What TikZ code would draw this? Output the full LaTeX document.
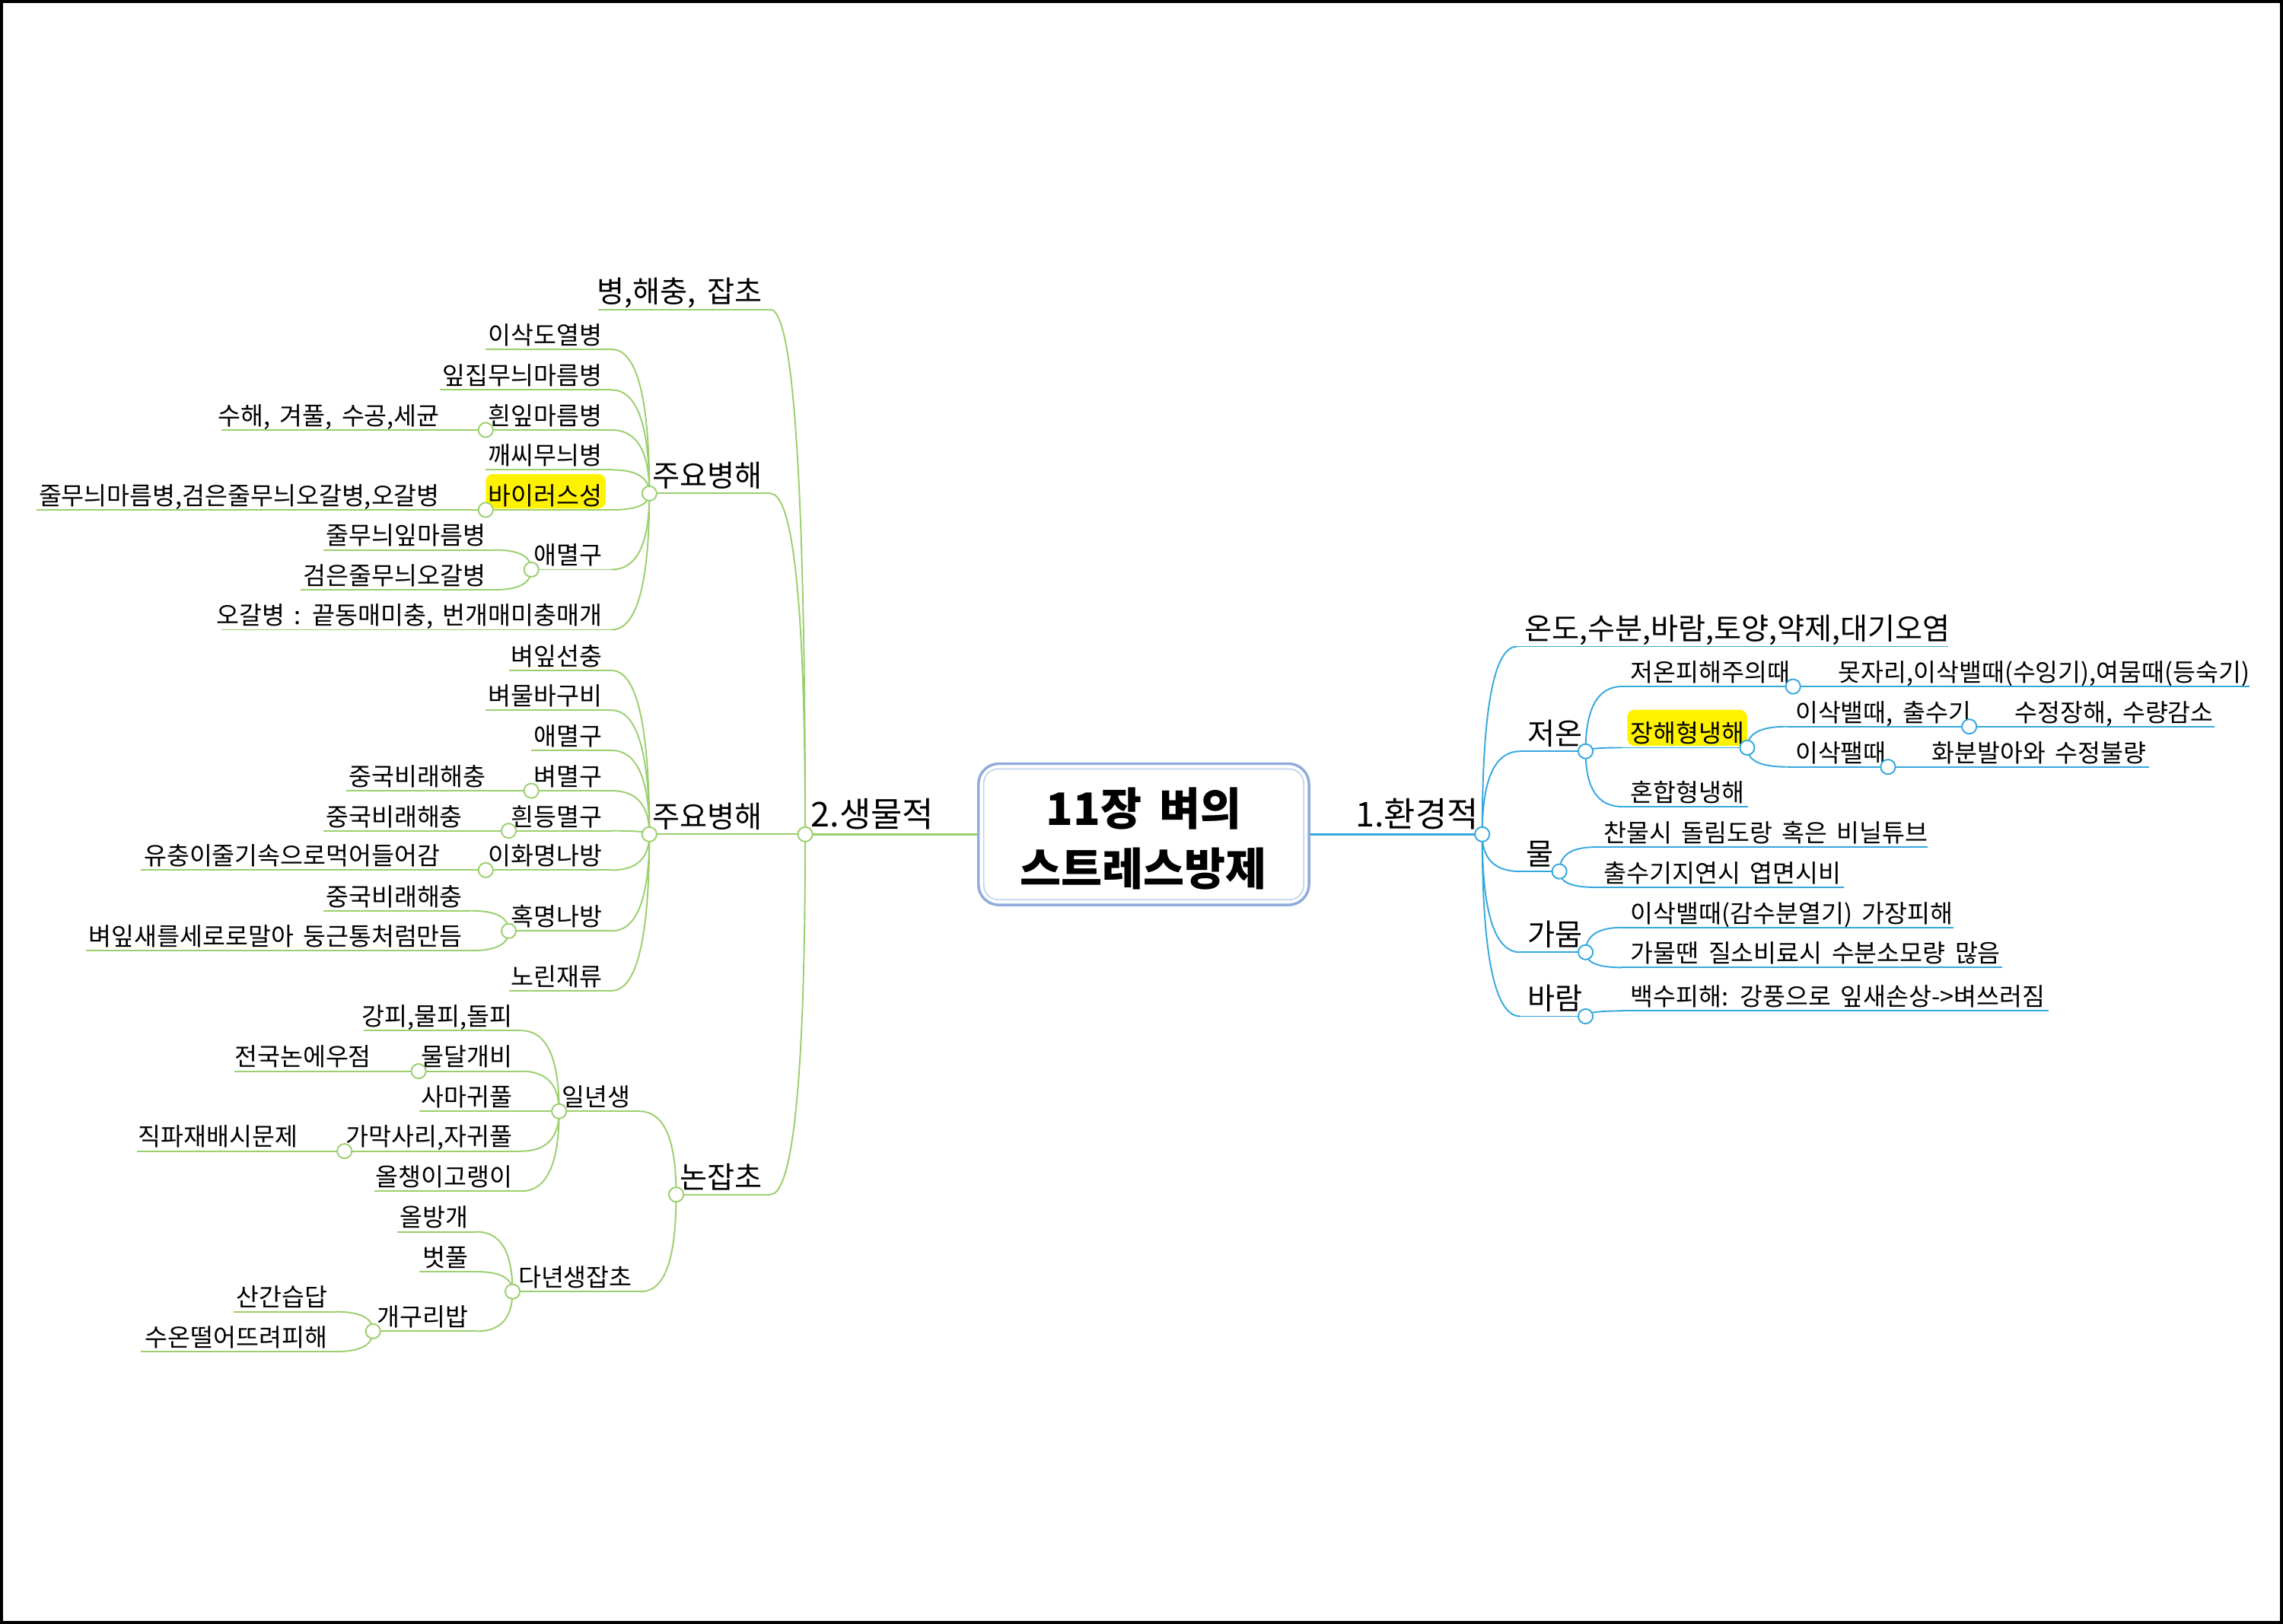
\documentclass[tikz,border=0pt]{standalone}
\usepackage{fontspec}
\setmainfont{Noto Sans CJK KR}[WordSpace=1.7]
\usetikzlibrary{calc}
\definecolor{gr}{RGB}{155,207,110}
\definecolor{bl}{RGB}{52,168,222}
\definecolor{boxo}{RGB}{143,170,220}
\definecolor{boxi}{RGB}{195,212,240}
\newcommand\mmq[3]{\draw[#1] (#2) .. controls ($(#2)!0.6667!(#2|-#3)$) and ($(#3)!0.6667!(#2|-#3)$) .. (#3);}
\tikzset{
  base/.style={inner sep=0pt, outer sep=0pt, text=black},
  fA/.style={font=\fontsize{23.5}{26}\selectfont},
  fB/.style={font=\fontsize{20.5}{24}\selectfont},
  fC/.style={font=\fontsize{17}{20}\selectfont},
  lt/.style={base, anchor=base east},
  rt/.style={base, anchor=base west},
  gl/.style={draw=gr, line width=1pt},
  bll/.style={draw=bl, line width=1pt},
  glm/.style={draw=gr, line width=1.6pt},
  blm/.style={draw=bl, line width=1.6pt},
  ghub/.style={circle, draw=gr, fill=white, line width=1pt, inner sep=0pt, minimum size=10pt},
  bhub/.style={circle, draw=bl, fill=white, line width=1pt, inner sep=0pt, minimum size=10pt},
  hl/.style={fill=yellow, rounded corners=5pt},
  cbox/.style={draw=boxo, line width=1.8pt, fill=white, rounded corners=14pt, minimum width=227pt, minimum height=97pt, inner sep=0pt},
  ctext/.style={base, align=center, font=\bfseries\fontsize{30.7}{41}\selectfont}
}
\begin{document}
\begin{tikzpicture}[x=1pt,y=-1pt]
\useasboundingbox (0,0) rectangle (1568,1115.37);
\fill[white] (0,0) rectangle (1568,1115.37);
\draw[line width=2pt] (1,1) rectangle (1567,1114.37);

% ---------- center ----------
\node[cbox] (C) at (785.5,573) {};
\draw[boxi, line width=0.9pt, rounded corners=10pt] ($(C.north west)+(4.5,4.5)$) rectangle ($(C.south east)+(-4.5,-4.5)$);

% ---------- coordinates: right ----------
\coordinate (H1) at (1018,573);
\coordinate (Ra) at (1042,444);   \coordinate (Rae) at (1338,444);
\coordinate (Rb) at (1044,516);   \coordinate (HJ) at (1089,516);
\coordinate (Rc) at (1044,598.5); \coordinate (HM) at (1071,598.5);
\coordinate (Rd) at (1044,654);   \coordinate (HG) at (1089,654);
\coordinate (Re) at (1044,698);   \coordinate (HB) at (1089,698);
\coordinate (Rb1) at (1114,471.5); \coordinate (HJ1) at (1231.5,471.5); \coordinate (Rb1e) at (1545,471.5);
\coordinate (Rb2) at (1114,513.5); \coordinate (HJ2) at (1200,513.5);
\coordinate (Rb21) at (1227,499); \coordinate (HJ21) at (1352.5,499); \coordinate (Rb21e) at (1521,499);
\coordinate (Rb22) at (1227,526.7); \coordinate (HJ22) at (1296.7,526.7); \coordinate (Rb22e) at (1476,526.7);
\coordinate (Rb3) at (1114,554); \coordinate (Rb3e) at (1200.5,554);
\coordinate (Rc1) at (1095.5,581.8); \coordinate (Rc1e) at (1324,581.8);
\coordinate (Rc2) at (1095.5,609.4); \coordinate (Rc2e) at (1266.6,609.4);
\coordinate (Rd1) at (1114,637); \coordinate (Rd1e) at (1341.5,637);
\coordinate (Rd2) at (1114,664.5); \coordinate (Rd2e) at (1375,664.5);
\coordinate (Re1) at (1114,694.3); \coordinate (Re1e) at (1407,694.3);

% ---------- coordinates: left ----------
\coordinate (H2) at (553,573);
\coordinate (La) at (529,212.5); \coordinate (Lae) at (411,212.5);
\coordinate (Lb) at (529,338.9); \coordinate (HA) at (446,338.9);
\coordinate (Lc) at (529,573);   \coordinate (HBb) at (446,573);
\coordinate (Ld) at (529,820.4); \coordinate (HC) at (464.4,820.4);
% under HA
\coordinate (Lb1) at (420,239.9); \coordinate (Lb1e) at (333.6,239.9);
\coordinate (Lb2) at (420,267.8); \coordinate (Lb2e) at (302,267.8);
\coordinate (Lb3) at (420,295.3); \coordinate (HA3) at (333.6,295.3); \coordinate (Lb3e) at (151.9,295.3);
\coordinate (Lb4) at (420,322.7); \coordinate (Lb4e) at (333.6,322.7);
\coordinate (Lb5) at (420,350.2); \coordinate (HA5) at (333.6,350.2); \coordinate (Lb5e) at (25,350.2);
\coordinate (Lb6) at (420,391.2); \coordinate (HA6) at (364.9,391.2);
\coordinate (Lb61) at (339.6,377.7); \coordinate (Lb61e) at (222.3,377.7);
\coordinate (Lb62) at (339.6,405.1); \coordinate (Lb62e) at (206.4,405.1);
\coordinate (Lb7) at (420,432.5); \coordinate (Lb7e) at (151.9,432.5);
% under HBb
\coordinate (Lc1) at (420,460.5); \coordinate (Lc1e) at (349.4,460.5);
\coordinate (Lc2) at (420,487.8); \coordinate (Lc2e) at (333.6,487.8);
\coordinate (Lc3) at (420,515.4); \coordinate (Lc3e) at (364.9,515.4);
\coordinate (Lc4) at (420,543.1); \coordinate (HB4) at (364.9,543.1); \coordinate (Lc4e) at (237.7,543.1);
\coordinate (Lc5) at (420,570.6); \coordinate (HB5) at (349.4,570.6); \coordinate (Lc5e) at (222.3,570.6);
\coordinate (Lc6) at (420,597.6); \coordinate (HB6) at (333.6,597.6); \coordinate (Lc6e) at (96.6,597.6);
\coordinate (Lc7) at (420,639.4); \coordinate (HB7) at (349.4,639.4);
\coordinate (Lc71) at (323.7,625.5); \coordinate (Lc71e) at (222.3,625.5);
\coordinate (Lc72) at (323.7,652.9); \coordinate (Lc72e) at (59,652.9);
\coordinate (Lc8) at (420,680.4); \coordinate (Lc8e) at (349.4,680.4);
% under HC
\coordinate (Ld1) at (439,763.2); \coordinate (HC1) at (384,763.2);
\coordinate (Ld11) at (358,707.8); \coordinate (Ld11e) at (249.9,707.8);
\coordinate (Ld12) at (358,735.7); \coordinate (HC12) at (287.5,735.7); \coordinate (Ld12e) at (161,735.7);
\coordinate (Ld13) at (358,763.2); \coordinate (Ld13e) at (288,763.2);
\coordinate (Ld14) at (358,790.6); \coordinate (HC14) at (236.6,790.6); \coordinate (Ld14e) at (94,790.6);
\coordinate (Ld15) at (358,818.1); \coordinate (Ld15e) at (257.3,818.1);
\coordinate (Ld2) at (440.5,887); \coordinate (HC2) at (352,887);
\coordinate (Ld21) at (327.4,846); \coordinate (Ld21e) at (272.8,846);
\coordinate (Ld22) at (327.4,873.4); \coordinate (Ld22e) at (288.2,873.4);
\coordinate (Ld23) at (327.4,914.3); \coordinate (HC23) at (256.2,914.3);
\coordinate (Ld231) at (230.8,900.9); \coordinate (Ld231e) at (160.3,900.9);
\coordinate (Ld232) at (230.8,928.3); \coordinate (Ld232e) at (96.6,928.3);

% ---------- connectors: right ----------
\draw[blm] (C.east|-H1) -- (H1);
\mmq{bll}{H1}{Ra} \draw[bll] (Ra) -- (Rae);
\mmq{bll}{H1}{Rb} \draw[bll] (Rb) -- (HJ);
\mmq{bll}{H1}{Rc} \draw[bll] (Rc) -- (HM);
\mmq{bll}{H1}{Rd} \draw[bll] (Rd) -- (HG);
\mmq{bll}{H1}{Re} \draw[bll] (Re) -- (HB);
\mmq{bll}{HJ}{Rb1} \draw[bll] (Rb1) -- (HJ1) -- (Rb1e);
\mmq{bll}{HJ}{Rb2} \draw[bll] (Rb2) -- (HJ2);
\mmq{bll}{HJ2}{Rb21} \draw[bll] (Rb21) -- (HJ21) -- (Rb21e);
\mmq{bll}{HJ2}{Rb22} \draw[bll] (Rb22) -- (HJ22) -- (Rb22e);
\mmq{bll}{HJ}{Rb3} \draw[bll] (Rb3) -- (Rb3e);
\mmq{bll}{HM}{Rc1} \draw[bll] (Rc1) -- (Rc1e);
\mmq{bll}{HM}{Rc2} \draw[bll] (Rc2) -- (Rc2e);
\mmq{bll}{HG}{Rd1} \draw[bll] (Rd1) -- (Rd1e);
\mmq{bll}{HG}{Rd2} \draw[bll] (Rd2) -- (Rd2e);
\mmq{bll}{HB}{Re1} \draw[bll] (Re1) -- (Re1e);

% ---------- connectors: left ----------
\draw[glm] (C.west|-H2) -- (H2);
\mmq{gl}{H2}{La} \draw[gl] (La) -- (Lae);
\mmq{gl}{H2}{Lb} \draw[gl] (Lb) -- (HA);
\draw[gl] (H2) -- (HBb);
\mmq{gl}{H2}{Ld} \draw[gl] (Ld) -- (HC);
\mmq{gl}{HA}{Lb1} \draw[gl] (Lb1) -- (Lb1e);
\mmq{gl}{HA}{Lb2} \draw[gl] (Lb2) -- (Lb2e);
\mmq{gl}{HA}{Lb3} \draw[gl] (Lb3) -- (HA3) -- (Lb3e);
\mmq{gl}{HA}{Lb4} \draw[gl] (Lb4) -- (Lb4e);
\mmq{gl}{HA}{Lb5} \draw[gl] (Lb5) -- (HA5) -- (Lb5e);
\mmq{gl}{HA}{Lb6} \draw[gl] (Lb6) -- (HA6);
\mmq{gl}{HA6}{Lb61} \draw[gl] (Lb61) -- (Lb61e);
\mmq{gl}{HA6}{Lb62} \draw[gl] (Lb62) -- (Lb62e);
\mmq{gl}{HA}{Lb7} \draw[gl] (Lb7) -- (Lb7e);
\mmq{gl}{HBb}{Lc1} \draw[gl] (Lc1) -- (Lc1e);
\mmq{gl}{HBb}{Lc2} \draw[gl] (Lc2) -- (Lc2e);
\mmq{gl}{HBb}{Lc3} \draw[gl] (Lc3) -- (Lc3e);
\mmq{gl}{HBb}{Lc4} \draw[gl] (Lc4) -- (HB4) -- (Lc4e);
\mmq{gl}{HBb}{Lc5} \draw[gl] (Lc5) -- (HB5) -- (Lc5e);
\mmq{gl}{HBb}{Lc6} \draw[gl] (Lc6) -- (HB6) -- (Lc6e);
\mmq{gl}{HBb}{Lc7} \draw[gl] (Lc7) -- (HB7);
\mmq{gl}{HB7}{Lc71} \draw[gl] (Lc71) -- (Lc71e);
\mmq{gl}{HB7}{Lc72} \draw[gl] (Lc72) -- (Lc72e);
\mmq{gl}{HBb}{Lc8} \draw[gl] (Lc8) -- (Lc8e);
\mmq{gl}{HC}{Ld1} \draw[gl] (Ld1) -- (HC1);
\mmq{gl}{HC1}{Ld11} \draw[gl] (Ld11) -- (Ld11e);
\mmq{gl}{HC1}{Ld12} \draw[gl] (Ld12) -- (HC12) -- (Ld12e);
\draw[gl] (HC1) -- (Ld13e);
\mmq{gl}{HC1}{Ld14} \draw[gl] (Ld14) -- (HC14) -- (Ld14e);
\mmq{gl}{HC1}{Ld15} \draw[gl] (Ld15) -- (Ld15e);
\mmq{gl}{HC}{Ld2} \draw[gl] (Ld2) -- (HC2);
\mmq{gl}{HC2}{Ld21} \draw[gl] (Ld21) -- (Ld21e);
\mmq{gl}{HC2}{Ld22} \draw[gl] (Ld22) -- (Ld22e);
\mmq{gl}{HC2}{Ld23} \draw[gl] (Ld23) -- (HC23);
\mmq{gl}{HC23}{Ld231} \draw[gl] (Ld231) -- (Ld231e);
\mmq{gl}{HC23}{Ld232} \draw[gl] (Ld232) -- (Ld232e);

% ---------- highlights ----------
\fill[hl] (333.6,325.5) rectangle (416,349.3);
\fill[hl] (1117.6,487.5) rectangle (1200,512.3);

% ---------- texts ----------
\node[ctext] (Ct) at (785.5,576) {11장 벼의\\스트레스방제};
\node[rt,fA] (t1) at (931,568) {1.환경적};
\node[rt,fA] (t2) at (557,568) {2.생물적};
% right
\node[rt,fB] (ra) at (1047,439.5) {온도,수분,바람,토양,약제,대기오염};
\node[rt,fB] (rb) at (1049,511.5) {저온};
\node[rt,fB] (rc) at (1048,594) {물};
\node[rt,fB] (rd) at (1049,649.5) {가뭄};
\node[rt,fB] (re) at (1049,693.5) {바람};
\node[rt,fC] (rb1) at (1120,468) {저온피해주의때};
\node[rt,fC] (rb1a) at (1262.5,468) {못자리,이삭밸때(수잉기),여뭄때(등숙기)};
\node[rt,fC] (rb2) at (1120,510) {장해형냉해};
\node[rt,fC] (rb21) at (1233,495.5) {이삭밸때, 출수기};
\node[rt,fC] (rb21a) at (1384,495.5) {수정장해, 수량감소};
\node[rt,fC] (rb22) at (1233,523.2) {이삭팰때};
\node[rt,fC] (rb22a) at (1327,523.2) {화분발아와 수정불량};
\node[rt,fC] (rb3) at (1120,550.5) {혼합형냉해};
\node[rt,fC] (rc1) at (1101.5,578.3) {찬물시 돌림도랑 혹은 비닐튜브};
\node[rt,fC] (rc2) at (1101.5,605.9) {출수기지연시 엽면시비};
\node[rt,fC] (rd1) at (1120,633.5) {이삭밸때(감수분열기) 가장피해};
\node[rt,fC] (rd2) at (1120,661) {가물땐 질소비료시 수분소모량 많음};
\node[rt,fC] (re1) at (1120,690.8) {백수피해: 강풍으로 잎새손상->벼쓰러짐};
% left
\node[lt,fB] (la) at (523.4,208) {병,해충, 잡초};
\node[lt,fB] (lb) at (523.4,334.4) {주요병해};
\node[lt,fB] (lc) at (523.4,568.5) {주요병해};
\node[lt,fB] (ld) at (523.4,816) {논잡초};
\node[lt,fC] (lb1) at (413.6,236.4) {이삭도열병};
\node[lt,fC] (lb2) at (413.6,264.3) {잎집무늬마름병};
\node[lt,fC] (lb3) at (413.6,291.8) {흰잎마름병};
\node[lt,fC] (lb3a) at (302,291.8) {수해, 겨풀, 수공,세균};
\node[lt,fC] (lb4) at (413.6,319.2) {깨씨무늬병};
\node[lt,fC] (lb5) at (413.6,346.7) {바이러스성};
\node[lt,fC] (lb5a) at (302,346.7) {줄무늬마름병,검은줄무늬오갈병,오갈병};
\node[lt,fC] (lb6) at (413.6,387.7) {애멸구};
\node[lt,fC] (lb61) at (333.6,374.2) {줄무늬잎마름병};
\node[lt,fC] (lb62) at (333.6,401.6) {검은줄무늬오갈병};
\node[lt,fC] (lb7) at (413.6,429) {오갈병 : 끝동매미충, 번개매미충매개};
\node[lt,fC] (lc1) at (413.6,457) {벼잎선충};
\node[lt,fC] (lc2) at (413.6,484.3) {벼물바구비};
\node[lt,fC] (lc3) at (413.6,511.9) {애멸구};
\node[lt,fC] (lc4) at (413.6,539.6) {벼멸구};
\node[lt,fC] (lc4a) at (333.6,539.6) {중국비래해충};
\node[lt,fC] (lc5) at (413.6,567.1) {흰등멸구};
\node[lt,fC] (lc5a) at (317.7,567.1) {중국비래해충};
\node[lt,fC] (lc6) at (413.6,594.1) {이화명나방};
\node[lt,fC] (lc6a) at (302.2,594.1) {유충이줄기속으로먹어들어감};
\node[lt,fC] (lc7) at (413.6,635.9) {혹명나방};
\node[lt,fC] (lc71) at (317.7,622) {중국비래해충};
\node[lt,fC] (lc72) at (317.7,649.4) {벼잎새를세로로말아 둥근통처럼만듬};
\node[lt,fC] (lc8) at (413.6,676.9) {노린재류};
\node[lt,fC] (ld1) at (433,759.7) {일년생};
\node[lt,fC] (ld11) at (352,704.3) {강피,물피,돌피};
\node[lt,fC] (ld12) at (352,732.2) {물달개비};
\node[lt,fC] (ld12a) at (255,732.2) {전국논에우점};
\node[lt,fC] (ld13) at (352,759.7) {사마귀풀};
\node[lt,fC] (ld14) at (352,787.1) {가막사리,자귀풀};
\node[lt,fC] (ld14a) at (204.6,787.1) {직파재배시문제};
\node[lt,fC] (ld15) at (352,814.6) {올챙이고랭이};
\node[lt,fC] (ld2) at (434.2,883.5) {다년생잡초};
\node[lt,fC] (ld21) at (321.4,842.5) {올방개};
\node[lt,fC] (ld22) at (321.4,869.9) {벗풀};
\node[lt,fC] (ld23) at (321.4,910.8) {개구리밥};
\node[lt,fC] (ld231) at (224.8,897.4) {산간습답};
\node[lt,fC] (ld232) at (224.8,924.8) {수온떨어뜨려피해};

% ---------- hubs ----------
\node[bhub] (h1) at (H1) {};
\node[bhub] (hj) at (HJ) {};
\node[bhub] (hm) at (HM) {};
\node[bhub] (hg) at (HG) {};
\node[bhub] (hb) at (HB) {};
\node[bhub] (hj1) at (HJ1) {};
\node[bhub] (hj2) at (HJ2) {};
\node[bhub] (hj21) at (HJ21) {};
\node[bhub] (hj22) at (HJ22) {};
\node[ghub] (h2) at (H2) {};
\node[ghub] (ha) at (HA) {};
\node[ghub] (hbb) at (HBb) {};
\node[ghub] (hc) at (HC) {};
\node[ghub] (ha3) at (HA3) {};
\node[ghub] (ha5) at (HA5) {};
\node[ghub] (ha6) at (HA6) {};
\node[ghub] (hb4) at (HB4) {};
\node[ghub] (hb5) at (HB5) {};
\node[ghub] (hb6) at (HB6) {};
\node[ghub] (hb7) at (HB7) {};
\node[ghub] (hc1) at (HC1) {};
\node[ghub] (hc12) at (HC12) {};
\node[ghub] (hc14) at (HC14) {};
\node[ghub] (hc2) at (HC2) {};
\node[ghub] (hc23) at (HC23) {};
\end{tikzpicture}
\end{document}
